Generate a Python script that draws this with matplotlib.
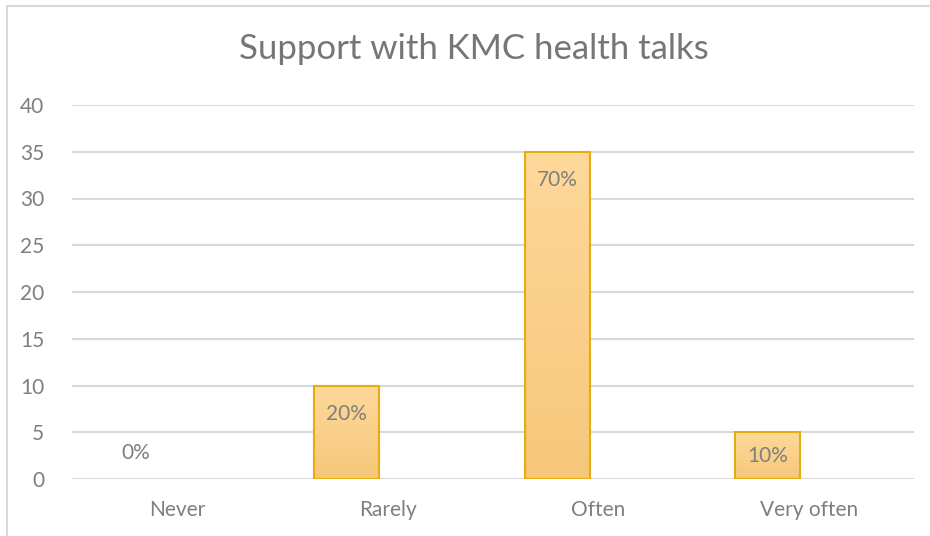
import matplotlib.pyplot as plt
import numpy as np
from matplotlib.colors import LinearSegmentedColormap
from matplotlib.patches import Rectangle

# survey answers: count of respondents and share
categories = ["Never", "Rarely", "Often", "Very often"]
counts = [0, 10, 35, 5]
shares = ["0%", "20%", "70%", "10%"]

plt.rcParams['font.family'] = ['Lato', 'DejaVu Sans']
grey = "#7f7f7f"

fig = plt.figure(figsize=(9.3, 5.36), dpi=100)
# chart frame (only left/top edges fall inside the picture)
fig.add_artist(Rectangle((7 / 930, -0.1), 1.2, 1.1 - 6 / 536, transform=fig.transFigure,
                         fill=False, edgecolor="#d9d9d9", lw=1.5))

ax = fig.add_axes([72 / 930, 1 - 479 / 536, 842 / 930, 374 / 536])
x = np.arange(len(categories))
width = 0.31
offset = -0.195   # first slot of a clustered group, second series is empty
xb = x + offset
bars = ax.bar(xb, counts, width=width, facecolor="none", edgecolor="#e6ad0c", lw=1.5, zorder=3)

# vertical gradient fill, light at top
cmap = LinearSegmentedColormap.from_list("warm", ["#f6c77a", "#fed99b"])
grad = np.linspace(0, 1, 256).reshape(-1, 1)
for b in bars:
    if b.get_height() == 0:
        b.set_visible(False)
        continue
    x0, h = b.get_x(), b.get_height()
    im = ax.imshow(grad, cmap=cmap, origin="lower", aspect="auto",
                   extent=(x0, x0 + width, 0, h), zorder=2)
    im.set_clip_path(b)

for xi, c, s in zip(xb, counts, shares):
    if c == 0:
        ax.text(xi, c + 2.8, s, ha="center", va="center", fontsize=15, color=grey, zorder=4)
    else:
        ax.text(xi, c - min(3.0, c * 0.5), s, ha="center", va="center", fontsize=15,
                color=grey, zorder=4)

ax.set_xlim(-0.5, len(categories) - 0.5)
ax.set_ylim(0, 40)
ax.set_yticks(range(0, 41, 5))
ax.set_xticks(x)
ax.set_xticklabels(categories)
ax.yaxis.grid(True, color="#d9d9d9", lw=1.5, zorder=0)
ax.set_axisbelow(True)
for s in ax.spines.values():
    s.set_visible(False)
ax.tick_params(length=0, labelsize=15, labelcolor=grey)
ax.tick_params(axis="y", pad=20)
ax.tick_params(axis="x", pad=15)

fig.text(474 / 930, 1 - 49 / 536, "Support with KMC health talks", ha="center", va="center",
         fontsize=25, color="#767676")

fig.savefig("out.png", dpi=100)
